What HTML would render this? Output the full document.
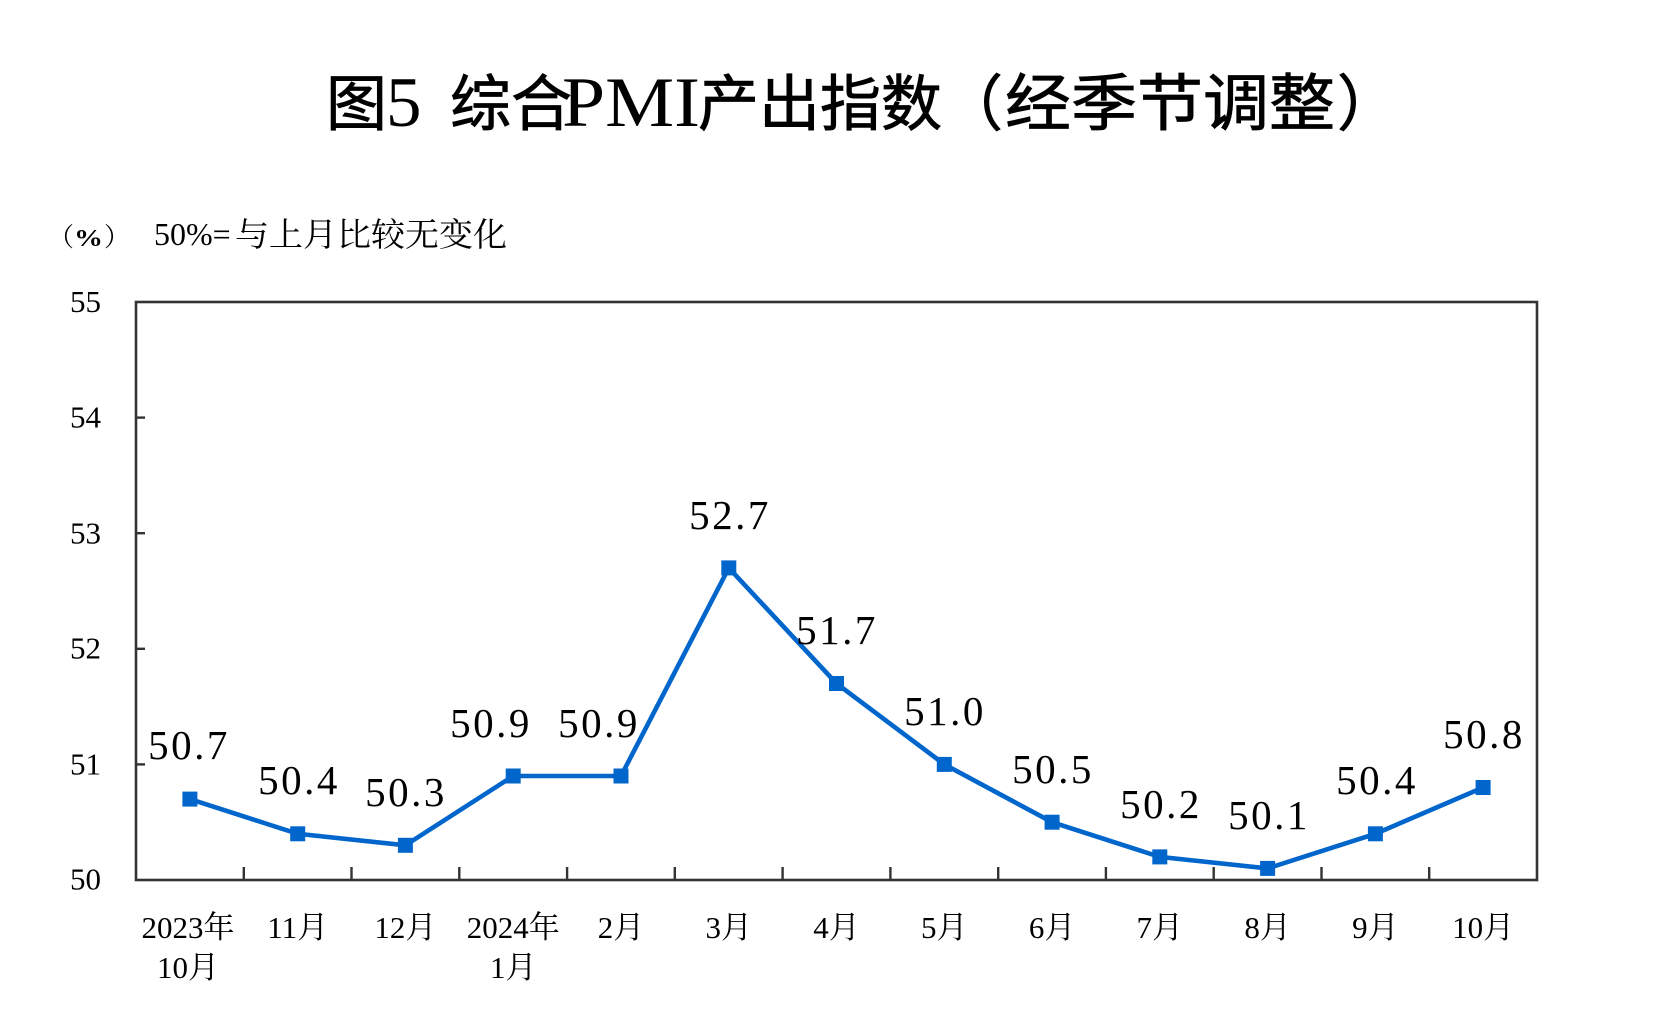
<!DOCTYPE html>
<html>
<head>
<meta charset="utf-8">
<style>
  html, body { margin: 0; padding: 0; background: #ffffff; }
  body { width: 1662px; height: 1035px; overflow: hidden; }
  svg { display: block; }
  .ylab { font-family: "Liberation Serif", serif; font-size: 31px; fill: #000; }
  .xlab { font-family: "Liberation Serif", "Noto Serif CJK SC", serif; font-size: 31px; fill: #000; }
  .dlab { font-family: "Liberation Serif", serif; font-size: 41px; fill: #000; letter-spacing: 2.5px; }
</style>
</head>
<body>
<svg width="1662" height="1035" viewBox="0 0 1662 1035" xmlns="http://www.w3.org/2000/svg">
  <rect x="0" y="0" width="1662" height="1035" fill="#ffffff"/>

  <!-- Title -->
  <g fill="#000">
    <text x="326" y="125" font-family="'Noto Sans CJK SC', sans-serif" font-size="61" stroke="#000" stroke-width="0.8">图</text>
    <text x="386" y="126" font-family="'Liberation Serif', serif" font-size="71">5</text>
    <text x="450" y="125" font-family="'Noto Sans CJK SC', sans-serif" font-size="61" stroke="#000" stroke-width="0.8">综合</text>
    <text x="562" y="126" font-family="'Liberation Serif', serif" font-size="71" textLength="138" lengthAdjust="spacingAndGlyphs">PMI</text>
    <text x="698" y="125" font-family="'Noto Sans CJK SC', sans-serif" font-size="61" stroke="#000" stroke-width="0.8">产出指数</text>
    <text x="942" y="125" font-family="'Noto Sans CJK SC', sans-serif" font-size="61" stroke="#000" stroke-width="0.8">（</text>
    <text x="1005" y="125" font-family="'Noto Sans CJK SC', sans-serif" font-size="62" stroke="#000" stroke-width="0.8" textLength="330" lengthAdjust="spacingAndGlyphs">经季节调整</text>
    <text x="1337" y="125" font-family="'Noto Sans CJK SC', sans-serif" font-size="61" stroke="#000" stroke-width="0.8">）</text>
  </g>

  <!-- Subtitle -->
  <g fill="#000">
    <text x="48" y="246" font-family="'Noto Serif CJK SC', serif" font-size="26">（</text>
    <text x="74" y="246" font-family="'Liberation Serif', serif" font-size="24" font-weight="bold" textLength="29" lengthAdjust="spacingAndGlyphs">%</text>
    <text x="104" y="246" font-family="'Noto Serif CJK SC', serif" font-size="26">）</text>
    <text x="154" y="245" font-family="'Liberation Serif', serif" font-size="32">50%=</text>
    <text x="235" y="246" font-family="'Noto Serif CJK SC', serif" font-size="33" textLength="272" lengthAdjust="spacingAndGlyphs">与上月比较无变化</text>
  </g>

  <!-- Y axis labels -->
  <g class="ylab" text-anchor="end">
    <text x="101" y="312">55</text>
    <text x="101" y="427.5">54</text>
    <text x="101" y="543.5">53</text>
    <text x="101" y="658.5">52</text>
    <text x="101" y="774.5">51</text>
    <text x="101" y="889.5">50</text>
  </g>

  <!-- Plot frame -->
  <rect x="136" y="302" width="1401" height="578" fill="none" stroke="#333333" stroke-width="2.6"/>

  <!-- Y ticks (inward) -->
  <g stroke="#333333" stroke-width="2.4">
    <line x1="136" y1="417.6" x2="145" y2="417.6"/>
    <line x1="136" y1="533.2" x2="145" y2="533.2"/>
    <line x1="136" y1="648.8" x2="145" y2="648.8"/>
    <line x1="136" y1="764.4" x2="145" y2="764.4"/>
  </g>

  <!-- X ticks -->
  <g stroke="#333333" stroke-width="2.4">
    <line x1="243.8" y1="867" x2="243.8" y2="880"/>
    <line x1="351.5" y1="867" x2="351.5" y2="880"/>
    <line x1="459.3" y1="867" x2="459.3" y2="880"/>
    <line x1="567.1" y1="867" x2="567.1" y2="880"/>
    <line x1="674.8" y1="867" x2="674.8" y2="880"/>
    <line x1="782.6" y1="867" x2="782.6" y2="880"/>
    <line x1="890.4" y1="867" x2="890.4" y2="880"/>
    <line x1="998.2" y1="867" x2="998.2" y2="880"/>
    <line x1="1105.9" y1="867" x2="1105.9" y2="880"/>
    <line x1="1213.7" y1="867" x2="1213.7" y2="880"/>
    <line x1="1321.5" y1="867" x2="1321.5" y2="880"/>
    <line x1="1429.2" y1="867" x2="1429.2" y2="880"/>
  </g>

  <!-- Series line -->
  <polyline fill="none" stroke="#0066CC" stroke-width="4.6" stroke-linejoin="miter"
    points="189.9,799.1 297.7,833.8 405.4,845.3 513.2,776.0 621.0,776.0 728.8,567.9 836.5,683.5 944.3,764.4 1052.1,822.2 1159.8,856.9 1267.6,868.4 1375.4,833.8 1483.1,787.5"/>

  <!-- Markers -->
  <g fill="#0066CC">
    <rect x="182.4" y="791.6" width="15" height="15"/>
    <rect x="290.2" y="826.3" width="15" height="15"/>
    <rect x="397.9" y="837.8" width="15" height="15"/>
    <rect x="505.7" y="768.5" width="15" height="15"/>
    <rect x="613.5" y="768.5" width="15" height="15"/>
    <rect x="721.3" y="560.4" width="15" height="15"/>
    <rect x="829.0" y="676.0" width="15" height="15"/>
    <rect x="936.8" y="756.9" width="15" height="15"/>
    <rect x="1044.6" y="814.7" width="15" height="15"/>
    <rect x="1152.3" y="849.4" width="15" height="15"/>
    <rect x="1260.1" y="860.9" width="15" height="15"/>
    <rect x="1367.9" y="826.3" width="15" height="15"/>
    <rect x="1475.6" y="780.0" width="15" height="15"/>
  </g>

  <!-- Data labels -->
  <g class="dlab" text-anchor="middle">
    <text x="189" y="759">50.7</text>
    <text x="299" y="794">50.4</text>
    <text x="406" y="806">50.3</text>
    <text x="491" y="737">50.9</text>
    <text x="599" y="737">50.9</text>
    <text x="730" y="529">52.7</text>
    <text x="837" y="644">51.7</text>
    <text x="945" y="725">51.0</text>
    <text x="1053" y="783">50.5</text>
    <text x="1161" y="818">50.2</text>
    <text x="1269" y="829">50.1</text>
    <text x="1377" y="794">50.4</text>
    <text x="1484" y="748">50.8</text>
  </g>

  <!-- X labels -->
  <g class="xlab" text-anchor="middle">
    <text x="188" y="938">2023年</text>
    <text x="188" y="978">10月</text>
    <text x="297.7" y="938">11月</text>
    <text x="405.4" y="938">12月</text>
    <text x="513.2" y="938">2024年</text>
    <text x="513.2" y="978">1月</text>
    <text x="621.0" y="938">2月</text>
    <text x="728.8" y="938">3月</text>
    <text x="836.5" y="938">4月</text>
    <text x="944.3" y="938">5月</text>
    <text x="1052.1" y="938">6月</text>
    <text x="1159.8" y="938">7月</text>
    <text x="1267.6" y="938">8月</text>
    <text x="1375.4" y="938">9月</text>
    <text x="1483.1" y="938">10月</text>
  </g>
</svg>
</body>
</html>
